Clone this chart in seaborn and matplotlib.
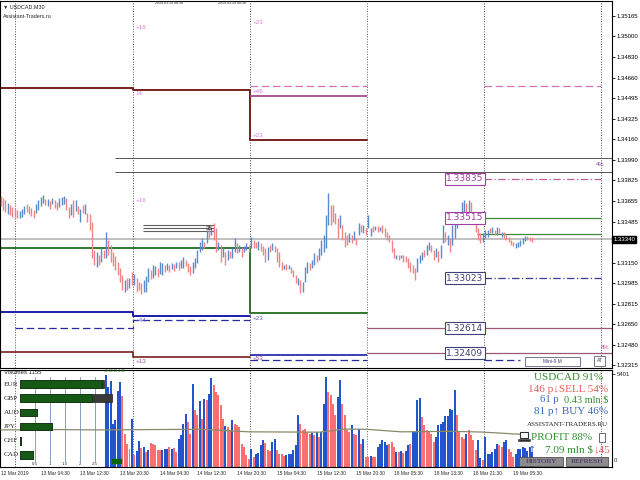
import numpy as np
import pandas as pd
import matplotlib
matplotlib.use("Agg")
import matplotlib.pyplot as plt
import seaborn as sns

# USDCAD M30, bar index 0 = first bar on screen (12 Mar 2019)
bar_hi = [
    1.33695, 1.33678, 1.33662, 1.33637, 1.33621, 1.33605, 1.33597, 1.33580, 1.33572, 1.33588,
    1.33613, 1.33629, 1.33613, 1.33597, 1.33580, 1.33629, 1.33662, 1.33687, 1.33703, 1.33670,
    1.33670, 1.33654, 1.33678, 1.33662, 1.33646, 1.33678, 1.33687, 1.33695, 1.33678, 1.33605,
    1.33629, 1.33662, 1.33662, 1.33613, 1.33588, 1.33621, 1.33629, 1.33556, 1.33548, 1.33482,
    1.33254, 1.33237, 1.33213, 1.33270, 1.33254, 1.33401, 1.33335, 1.33294, 1.33237, 1.33205,
    1.33155, 1.33106, 1.33049, 1.33008, 1.33025, 1.33025, 1.33074, 1.33057, 1.33025, 1.32992,
    1.32984, 1.33008, 1.33041, 1.33106, 1.33090, 1.33131, 1.33123, 1.33106, 1.33155, 1.33147,
    1.33131, 1.33147, 1.33131, 1.33147, 1.33139, 1.33155, 1.33155, 1.33172, 1.33196, 1.33172,
    1.33147, 1.33123, 1.33155, 1.33188, 1.33254, 1.33319, 1.33352, 1.33319, 1.33417, 1.33441,
    1.33433, 1.33474, 1.33433, 1.33319, 1.33294, 1.33270, 1.33237, 1.33254, 1.33245, 1.33270,
    1.33352, 1.33311, 1.33294, 1.33278, 1.33286, 1.33311, 1.33294, 1.33360, 1.33335, 1.33319,
    1.33327, 1.33311, 1.33286, 1.33270, 1.33278, 1.33294, 1.33311, 1.33286, 1.33270, 1.33237,
    1.33155, 1.33131, 1.33139, 1.33131, 1.33115, 1.33090, 1.33049, 1.33025, 1.33008, 1.32992,
    1.33115, 1.33155, 1.33147, 1.33172, 1.33229, 1.33213, 1.33270, 1.33335, 1.33376, 1.33539,
    1.33719, 1.33621, 1.33621, 1.33556, 1.33515, 1.33539, 1.33458, 1.33401, 1.33376, 1.33392,
    1.33376, 1.33409, 1.33352, 1.33474, 1.33458, 1.33458, 1.33433, 1.33539, 1.33433, 1.33450,
    1.33450, 1.33450, 1.33441, 1.33458, 1.33433, 1.33401, 1.33376, 1.33335, 1.33270, 1.33213,
    1.33213, 1.33213, 1.33213, 1.33205, 1.33188, 1.33155, 1.33131, 1.33106, 1.33188, 1.33213,
    1.33237, 1.33254, 1.33294, 1.33319, 1.33294, 1.33254, 1.33270, 1.33245, 1.33294, 1.33458,
    1.33401, 1.33376, 1.33352, 1.33458, 1.33499, 1.33564, 1.33515, 1.33646, 1.33662, 1.33637,
    1.33662, 1.33646, 1.33564, 1.33515, 1.33433, 1.33392, 1.33392, 1.33417, 1.33417, 1.33433,
    1.33441, 1.33417, 1.33441, 1.33433, 1.33401, 1.33401, 1.33376, 1.33360, 1.33335, 1.33319,
    1.33311, 1.33319, 1.33335, 1.33352, 1.33368, 1.33368, 1.33360, 1.33352,
]
bar_lo = [
    1.33613, 1.33580, 1.33564, 1.33548, 1.33539, 1.33523, 1.33523, 1.33515, 1.33515, 1.33523,
    1.33548, 1.33564, 1.33548, 1.33531, 1.33515, 1.33556, 1.33580, 1.33613, 1.33637, 1.33621,
    1.33613, 1.33588, 1.33629, 1.33597, 1.33580, 1.33605, 1.33621, 1.33629, 1.33580, 1.33515,
    1.33539, 1.33523, 1.33572, 1.33548, 1.33482, 1.33556, 1.33548, 1.33482, 1.33417, 1.33188,
    1.33131, 1.33115, 1.33131, 1.33155, 1.33188, 1.33188, 1.33213, 1.33155, 1.33123, 1.33090,
    1.33049, 1.32992, 1.32927, 1.32910, 1.32927, 1.32943, 1.32967, 1.32967, 1.32910, 1.32927,
    1.32894, 1.32910, 1.32910, 1.32992, 1.33017, 1.33025, 1.33049, 1.33033, 1.33057, 1.33049,
    1.33074, 1.33090, 1.33074, 1.33098, 1.33082, 1.33106, 1.33090, 1.33106, 1.33106, 1.33123,
    1.33074, 1.33049, 1.33066, 1.33106, 1.33147, 1.33237, 1.33254, 1.33270, 1.33311, 1.33352,
    1.33376, 1.33335, 1.33237, 1.33254, 1.33155, 1.33196, 1.33131, 1.33172, 1.33188, 1.33188,
    1.33237, 1.33229, 1.33237, 1.33196, 1.33237, 1.33254, 1.33237, 1.33270, 1.33270, 1.33270,
    1.33254, 1.33245, 1.33213, 1.33155, 1.33172, 1.33237, 1.33254, 1.33237, 1.33155, 1.33115,
    1.33090, 1.33098, 1.33090, 1.33098, 1.33066, 1.33033, 1.32984, 1.32967, 1.32902, 1.32910,
    1.32992, 1.33066, 1.33090, 1.33106, 1.33131, 1.33155, 1.33172, 1.33213, 1.33237, 1.33270,
    1.33458, 1.33458, 1.33482, 1.33466, 1.33352, 1.33433, 1.33335, 1.33278, 1.33294, 1.33319,
    1.33311, 1.33335, 1.33294, 1.33376, 1.33401, 1.33392, 1.33376, 1.33433, 1.33368, 1.33401,
    1.33417, 1.33401, 1.33409, 1.33392, 1.33360, 1.33335, 1.33319, 1.33237, 1.33188, 1.33180,
    1.33172, 1.33188, 1.33155, 1.33155, 1.33106, 1.33074, 1.33066, 1.33008, 1.33074, 1.33147,
    1.33172, 1.33196, 1.33213, 1.33254, 1.33237, 1.33172, 1.33196, 1.33155, 1.33188, 1.33311,
    1.33319, 1.33294, 1.33237, 1.33294, 1.33352, 1.33433, 1.33474, 1.33515, 1.33564, 1.33539,
    1.33556, 1.33515, 1.33482, 1.33401, 1.33335, 1.33311, 1.33319, 1.33352, 1.33360, 1.33392,
    1.33392, 1.33376, 1.33376, 1.33392, 1.33360, 1.33352, 1.33335, 1.33319, 1.33294, 1.33286,
    1.33270, 1.33278, 1.33286, 1.33303, 1.33327, 1.33335, 1.33327, 1.33319,
]
# u = up bar (blue), d = down bar (red)
bar_dir = ("dddudddduu" "udddduuuud" "ududduuudd" "ududududdd" "dudududddd"
           "dddudududd" "duuuduuduu" "dudududuud" "dduuuuudud" "uddudududu"
           "ududuududd" "udddududdd" "dududddudu" "uuduuduuuu" "uddddudddu"
           "dudududuud" "ududdddddu" "dudddddduu" "uduudduduu" "duduuuduud"
           "uddddduuud" "udududdddd" "uuuuuddd")

# tick volumes, from bar 45 on (the bars before sit under the strength panel)
vol_start = 45
volumes = [
    5336, 4640, 4988, 2494, 2726, 4408, 4930, 4118, 1914, 1334,
    1044, 2784, 696, 928, 1508, 1102, 1160, 870, 986, 1392,
    1334, 1276, 986, 986, 986, 1044, 1044, 1160, 1044, 1102,
    870, 1624, 1856, 2494, 3074, 2610, 1914, 4814, 3306, 3016,
    3828, 2784, 3944, 3886, 4234, 5162, 4756, 4350, 4176, 3596,
    2784, 2378, 2320, 2146, 2726, 2494, 2436, 2320, 1334, 1160,
    696, 464, 1044, 580, 754, 812, 1276, 1566, 1392, 986,
    928, 1450, 1624, 986, 754, 754, 638, 696, 754, 754,
    986, 1276, 3016, 2494, 2146, 2204, 2030, 1914, 1972, 1856,
    2030, 1740, 2030, 3654, 5220, 4350, 4176, 3654, 3016, 4060,
    5046, 3654, 3016, 2146, 2030, 2436, 1914, 1856, 2204, 1334,
    1624, 580, 580, 638, 580, 580, 1160, 1334, 1566, 1450,
    1276, 1334, 1450, 1160, 870, 870, 928, 812, 928, 1276,
    1334, 2030, 2030, 3886, 4002, 2900, 2436, 2146, 2030, 1914,
    1450, 1740, 2436, 2494, 2610, 2958, 2958, 3364, 3306, 4466,
    3016, 2030, 1740, 1624, 1914, 2146, 1856, 1566, 986, 1566,
    522, 406, 1740, 754, 754, 870, 1044, 1334, 1276, 1160,
    1450, 1566, 1044, 870, 580, 754, 1044, 1044, 1160, 1102,
    928, 1160, 870,
]
vol_col = ("bbbbbbbrrr" "rbrbbrbrbr" "rrrrbbbrbr" "rbbbbrrbrr" "brbrbbrrrr"
           "rbrrbrrrrr" "rrbrbbbbrr" "rbbrrrrbbb" "bbbrrrrrbr"
           "brbbbrrrrb" "brrrrbrrbr" "brrbrrbbbb" "brrrbrbrbb" "rbbbbrrrrr"
           "rbbbbbbbbb" "rrrrbrrrrb" "brbbbbbbrr" "bbrrrbbbbb" "bbb")

# volume average line
ma_idx = [0, 25, 42, 85, 106, 136, 147, 156, 171, 192, 205, 222]
ma_vals = [2150, 2170, 2150, 2190, 2040, 2020, 2200, 2190, 2040, 2070, 2030, 1900]

time_idx = [0, 17, 34, 51, 68, 84, 101, 118, 135, 152, 168, 185, 202, 219]
time_labels = ["12 Mar 2019", "13 Mar 04:30", "13 Mar 12:30", "13 Mar 20:30",
               "14 Mar 04:30", "14 Mar 12:30", "14 Mar 20:30", "15 Mar 04:30",
               "15 Mar 12:30", "15 Mar 20:30", "18 Mar 05:30", "18 Mar 13:30",
               "18 Mar 21:30", "19 Mar 05:30"]

price_ticks = [1.35165, 1.35000, 1.34830, 1.34660, 1.34495, 1.34325, 1.34160,
               1.33990, 1.33825, 1.33655, 1.33485, 1.33150, 1.32985, 1.32815,
               1.32650, 1.32480, 1.32315]
bid = 1.33340
vol_max = 5401

day_sep = [6, 56.5, 106.5, 156.5, 206.5, 256.5]

# daily range levels (step lines)
hi_step_x = [-0.3, 56.5, 56.5, 106.5, 106.5, 156.5]
hi_step_y = [1.34577, 1.34577, 1.34557, 1.34557, 1.34152, 1.34152]
mid_step_x = [-0.3, 106.5, 106.5, 156.5]
mid_step_y = [1.33270, 1.33270, 1.32739, 1.32739]
lo_step_x = [-0.3, 56.5, 56.5, 106.5]
lo_step_y = [1.32747, 1.32747, 1.32714, 1.32714]
lo2_step_x = [6, 56.5, 56.5, 106.5]
lo2_step_y = [1.32616, 1.32616, 1.32682, 1.32682]

# price labels of the right hand levels
lvl_prices = [1.33835, 1.33515, 1.33023, 1.32614, 1.32409]

ccy = ["EUR", "GBP", "AUD", "JPY", "CHF", "CAD"]
ccy_main = [2.72, 2.39, 0.56, 1.06, 0.04, 0.44]
ccy_extra = [0.08, 0.67, 0.0, 0.0, 0.0, 0.0]

UP = "#5a8ccc"
DN = "#f08484"
VB = "#2255cc"
VR = "#fa7070"

sns.set_theme(style="white")
plt.rcParams["font.family"] = ["Liberation Sans", "DejaVu Sans"]

W, H = 640, 480
fig = plt.figure(figsize=(6.4, 4.8), dpi=100)
fig.patch.set_facecolor("white")


def box(x0, y0, x1, y1):
    return [x0 / W, 1 - y1 / H, (x1 - x0) / W, (y1 - y0) / H]


def ftext(x, y, s, **kw):
    fig.text(x / W, 1 - y / H, s, **kw)


def frect(x0, y0, x1, y1, **kw):
    fig.patches.append(plt.Rectangle((x0 / W, 1 - y1 / H), (x1 - x0) / W, (y1 - y0) / H,
                                     transform=fig.transFigure, **kw))


ax = fig.add_axes(box(0, 1, 612, 368))
axv = fig.add_axes(box(0, 370, 612, 467))
for a in (ax, axv):
    a.set_facecolor("white")
    a.set_xlim(-0.34, 261.2)
    for s in a.spines.values():
        s.set_color("black")
        s.set_linewidth(0.8)
ax.set_ylim(1.32289, 1.35288)

# session separators
for i, xs in enumerate(day_sep):
    c = "#3a7a3a" if i == 3 else "#505050"
    ax.axvline(xs, color=c, lw=0.7, ls=(0, (1, 1.6)))
    axv.axvline(xs, color=c, lw=0.7, ls=(0, (1, 1.6)))

# level lines
ax.axhline(bid, color="#c0c0c0", lw=1.4, zorder=1)
ax.plot(hi_step_x, hi_step_y, color="#7a1f1f", lw=1.4)
ax.plot(mid_step_x, mid_step_y, color="#1f6b1f", lw=1.3)
ax.plot(lo_step_x, lo_step_y, color="#1c1ca8", lw=1.4)
ax.plot(lo2_step_x, lo2_step_y, color="#2a2aa0", lw=0.9, ls=(0, (6, 3)))
ax.hlines([1.34593], 106.5, 156.5, color="#d070b8", lw=0.9, ls=(0, (6, 3)))
ax.hlines([1.34512], 106.5, 156.5, color="#a03a8a", lw=1.2)
ax.hlines([1.34593], 206.5, 256.5, color="#d070b8", lw=0.9, ls=(0, (6, 3)))
ax.hlines([1.34005, 1.33891], 48.8, 261.2, color="#555555", lw=0.7)
ax.hlines([1.33457, 1.33433, 1.33409], 60.8, 91.0, color="#606060", lw=0.8)
ax.hlines([1.33835], 206.5, 256.5, color="#c0609a", lw=0.9, ls=(0, (6, 2, 1, 2)))
ax.hlines([1.33515, 1.33384], 203.5, 256.5, color="#3a8a3a", lw=0.9)
ax.hlines([1.33023], 206.5, 256.5, color="#3a3a9a", lw=0.9, ls=(0, (6, 2, 1, 2)))
ax.hlines([1.32614, 1.32409], 156.5, 261.2, color="#a05878", lw=0.9)
ax.plot([-0.3, 56.5, 56.5, 106.5], [1.32420, 1.32420, 1.32379, 1.32379], color="#7a1f1f", lw=1.2)
ax.hlines([1.32396], 106.5, 156.5, color="#1c1ca8", lw=1.2)
ax.hlines([1.32355], 106.5, 156.5, color="#2a2aa0", lw=0.9, ls=(0, (6, 3)))
ax.hlines([1.32355], 206.5, 222, color="#2a2aa0", lw=0.9, ls=(0, (6, 3)))

# OHLC bars
x = np.arange(len(bar_hi))
up = np.array([c == "u" for c in bar_dir])
hi = np.array(bar_hi)
lo = np.array(bar_lo)
ax.vlines(x[up], lo[up], hi[up], color=UP, lw=1.0, zorder=3)
ax.vlines(x[~up], lo[~up], hi[~up], color=DN, lw=1.0, zorder=3)

# level price tags
tag_ec = ["#a040a0", "#a040a0", "#40407a", "#40407a", "#40407a"]
for p, ec in zip(lvl_prices, tag_ec):
    ax.text(206.3, p, f"{p:.5f}", ha="right", va="center", fontsize=6.5,
            family="DejaVu Sans", color=ec, zorder=6,
            bbox=dict(boxstyle="square,pad=0.15", fc="white", ec=ec, lw=0.8))

# small level notes
pink = "#d77fd7"
ax.text(57.5, 1.35075, "+16", color=pink, fontsize=4.5, va="center")
ax.text(107.5, 1.35116, "+23", color=pink, fontsize=4.5, va="center")
ax.text(57.5, 1.34534, "14", color=pink, fontsize=4.5, va="center")
ax.text(107.5, 1.34552, "+46", color=pink, fontsize=4.5, va="center")
ax.text(107.5, 1.34190, "+23", color=pink, fontsize=4.5, va="center")
ax.text(57.5, 1.33660, "+16", color=pink, fontsize=4.5, va="center")
ax.text(57.5, 1.32680, "+44", color="#6060c0", fontsize=4.5, va="center")
ax.text(107.5, 1.32690, "+23", color="#6060c0", fontsize=4.5, va="center")
ax.text(57.5, 1.32345, "+13", color="#a050a0", fontsize=4.5, va="center")
ax.text(107.5, 1.32370, "+53", color="#a050a0", fontsize=4.5, va="center")
ax.text(87.5, 1.33433, "35", color="#202020", fontsize=4.5, va="center")
ax.text(258, 1.33950, "4%", color="#8050a0", fontsize=4.2, ha="right", va="center")
ax.text(260, 1.32460, "8%", color="#d05090", fontsize=4.2, ha="right", va="center")

# right price scale
ax.set_xticks([])
ax.yaxis.tick_right()
ax.set_yticks(price_ticks)
ax.set_yticklabels([f"{p:.5f}" for p in price_ticks])
ax.tick_params(axis="y", labelsize=4.3, length=2, pad=1.5, width=0.6, colors="black")
ax.text(1.002, bid, f"{bid:.5f}", transform=ax.get_yaxis_transform(), fontsize=4.3,
        color="white", va="center", ha="left", clip_on=False,
        bbox=dict(boxstyle="square,pad=0.2", fc="black", ec="black"))

# volumes panel
vx = np.arange(vol_start, vol_start + len(volumes))
vc = [VB if c == "b" else VR for c in vol_col]
axv.bar(vx, volumes, width=0.85, color=vc, linewidth=0, zorder=2)
sns.lineplot(x=ma_idx, y=ma_vals, ax=axv, color="#8a8a6a", lw=0.9, zorder=3)
axv.set_ylim(0, 5626)
axv.yaxis.tick_right()
axv.set_yticks([vol_max])
axv.set_yticklabels([str(vol_max)])
axv.tick_params(axis="y", labelsize=4.3, length=2, pad=1.5, width=0.6)
axv.set_xticks(time_idx)
axv.set_xticklabels(time_labels)
for t in axv.get_xticklabels():
    t.set_horizontalalignment("left")
axv.tick_params(axis="x", labelsize=3.5, length=2, pad=1, width=0.6)
ftext(614, 461, "0", fontsize=4.3, va="center")

# currency strength panel
axc = fig.add_axes(box(20, 377, 120, 462))
sdf = pd.DataFrame({"ccy": ccy, "main": ccy_main, "tot": np.add(ccy_main, ccy_extra)})
sns.barplot(data=sdf, x="tot", y="ccy", ax=axc, color="#3a3a3a", width=0.55,
            edgecolor="#202020", linewidth=0.5, orient="h")
sns.barplot(data=sdf, x="main", y="ccy", ax=axc, color="#0a640a", width=0.55,
            edgecolor="#103010", linewidth=0.5, orient="h")
axc.set_xlim(0, 3.33)
for g in [0.5, 1, 1.5, 2, 2.5]:
    axc.axvline(g, color="#6f8fb8", lw=0.6, zorder=0)
    ftext(20 + g * 30, 464, f"{g:g}", fontsize=3.2, ha="center", va="center", color="#303030")
axc.set_axis_off()
axc.patch.set_alpha(0)
for i, c in enumerate(ccy):
    ftext(4, 384 + i * 14, c, fontsize=5.2, family="Liberation Serif", va="center")
ftext(4, 373, "Volumes 1155", fontsize=4.3, va="center")
ftext(104, 371.5, "10:53:18 4:30", fontsize=2.4, color="#208020", va="center")
frect(112, 459, 121, 463, color="#0a640a")

# chart header
ftext(3, 7, "\u25bc USDCAD,M30", fontsize=3.9, va="center")
ftext(3, 17, "Assistant-Traders.ru", fontsize=3.9, va="center")
ftext(155, 3.5, "2019.03.19 08:38", fontsize=2.6, va="center")
ftext(218, 3.5, "2019.03.19 08:38", fontsize=2.6, va="center")

# statistics overlay
serif = ["Liberation Serif", "DejaVu Serif"]
green = "#2f8f2f"
red = "#f05a5a"
blue = "#3a66c0"
ftext(603, 377, "USDCAD 91%", fontsize=8, family=serif, color=green, ha="right", va="center")
ftext(608, 389, "146 p\u2193SELL 54%", fontsize=8, family=serif, color=red, ha="right", va="center")
ftext(540, 400, "61 p", fontsize=7.6, family=serif, color=blue, va="center")
ftext(608, 400, "0.43 mln $", fontsize=7.4, family=serif, color=green, ha="right", va="center")
ftext(608, 411, "81 p\u2191 BUY 46%", fontsize=8, family=serif, color=blue, ha="right", va="center")
ftext(608, 424, "ASSISTANT-TRADERS.RU", fontsize=5, family=serif, color="#202020", ha="right", va="center")
# laptop icon
frect(520, 432, 528, 438, fc="white", ec="#303030", lw=0.8)
frect(518, 438.5, 530, 440.5, fc="#303030", ec="#303030", lw=0.4)
ftext(531, 437, "PROFIT 88%", fontsize=8, family=serif, color=green, va="center")
# mouse icon
frect(599, 433, 605, 442, fc="white", ec="#505050", lw=0.6)
ftext(528, 450, "\u2191", fontsize=7, family="DejaVu Sans", color=blue, va="center")
ftext(545, 450, "7.09 mln $", fontsize=8, family=serif, color=green, va="center")
ftext(594, 450, "\u219345", fontsize=8, family=serif, color=red, va="center")
for bx0, bx1, lab in [(519, 563, "HISTORY"), (566, 608, "REFRESH")]:
    frect(bx0, 457, bx1, 466, fc="#8c8c8c", ec="#505050", lw=0.6)
    ftext((bx0 + bx1) / 2, 461.5, lab, fontsize=5.3, family=serif, color="#402060",
          ha="center", va="center")

# mini panel buttons
frect(525, 357, 580, 366, fc="white", ec="#606080", lw=0.6)
ftext(552, 361.5, "Mini-9 M", fontsize=3.5, ha="center", va="center", color="#404080")
frect(594, 356, 605, 366, fc="white", ec="#606060", lw=0.6)
ftext(599.5, 361, "AT", fontsize=3.5, ha="center", va="center", color="#404040")

fig.savefig("out.png", dpi=100)
